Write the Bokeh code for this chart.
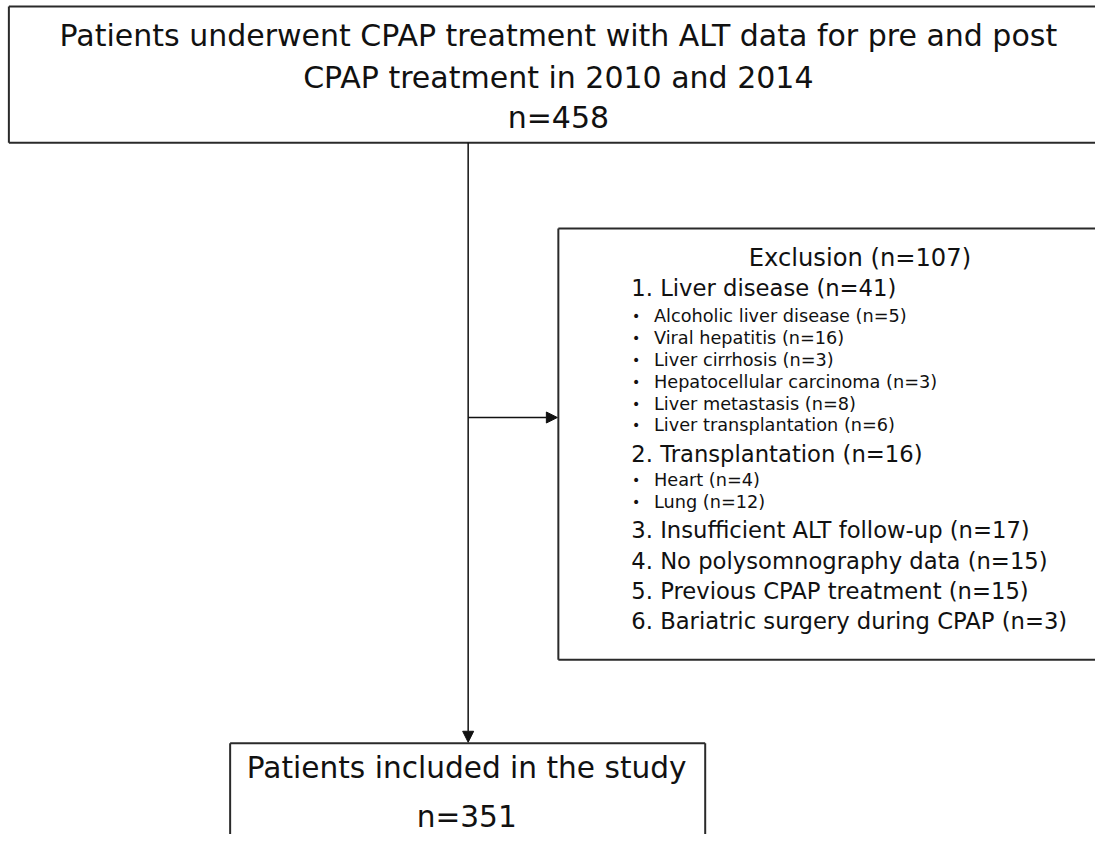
from bokeh.plotting import figure
from bokeh.models import Range1d, Arrow, NormalHead, ColumnDataSource
from bokeh.core.properties import value
from bokeh.embed import file_html
from bokeh.resources import INLINE

# ---- data (flowchart contents) ----
top_lines = ["Patients underwent CPAP treatment with ALT data for pre and post",
             "CPAP treatment in 2010 and 2014"]
total_n = 458
excluded_n = 107
included_n = 351
groups = ["Liver disease", "Transplantation", "Insufficient ALT follow-up",
          "No polysomnography data", "Previous CPAP treatment",
          "Bariatric surgery during CPAP"]
group_n = [41, 16, 17, 15, 15, 3]
liver_sub = ["Alcoholic liver disease", "Viral hepatitis", "Liver cirrhosis",
             "Hepatocellular carcinoma", "Liver metastasis", "Liver transplantation"]
liver_sub_n = [5, 16, 3, 3, 8, 6]
tx_sub = ["Heart", "Lung"]
tx_sub_n = [4, 12]
included_label = "Patients included in the study"

FONT = value("DejaVu Sans")
INK = "#111111"
BORDER = "#2a2a2a"

p = figure(width=1095, height=834, x_range=Range1d(0, 1111), y_range=Range1d(850, 0),
           output_backend="svg", toolbar_location=None, min_border=0,
           x_axis_location=None, y_axis_location=None)
p.grid.visible = False
p.outline_line_color = None
p.background_fill_color = "white"
p.border_fill_color = "white"

# ---- boxes ----
seg = dict(
    x0=[8.5, 8.5, 8.5, 566, 566, 566, 233, 233, 715],
    y0=[6, 6, 145, 232.5, 232.5, 672, 757, 757, 757],
    x1=[8.5, 1120, 1120, 566, 1120, 1120, 715, 233, 715],
    y1=[145, 6, 145, 672, 232.5, 672, 757, 870, 870],
)
p.segment(x0="x0", y0="y0", x1="x1", y1="y1", source=ColumnDataSource(seg),
          line_color=BORDER, line_width=2)

# ---- arrows ----
head = lambda: NormalHead(size=11, fill_color=INK, line_color=INK, line_width=1)
p.add_layout(Arrow(end=head(), x_start=474.5, y_start=145, x_end=474.5, y_end=756,
                   line_color=INK, line_width=1.5))
p.add_layout(Arrow(end=head(), x_start=474.5, y_start=425, x_end=565, y_end=425,
                   line_color=INK, line_width=1.5))

# ---- top box text ----
top_text = top_lines + [f"n={total_n}"]
p.text(x=[566] * 3, y=[36, 78, 119], text=top_text, text_font=FONT,
       text_font_size="30px", text_align="center", text_baseline="middle", text_color=INK)

# ---- bottom box text ----
p.text(x=[473, 473], y=[782, 832], text=[included_label, f"n={included_n}"], text_font=FONT,
       text_font_size="29.6px", text_align="center", text_baseline="middle", text_color=INK)

# ---- exclusion box text ----
p.text(x=[872], y=[262], text=[f"Exclusion (n={excluded_n})"], text_font=FONT,
       text_font_size="24.2px", text_align="center", text_baseline="middle", text_color=INK)

group_y = [293, 462, 540, 571, 602, 632]
g_text = [f"{i + 1}. {g} (n={n})" for i, (g, n) in enumerate(zip(groups, group_n))]
p.text(x=[640] * len(g_text), y=group_y, text=g_text, text_font=FONT,
       text_font_size="22.7px", text_align="left", text_baseline="middle", text_color=INK)

sub_y = [322, 344, 366, 389, 411, 433, 489, 511]
sub_text = [f"{s} (n={n})" for s, n in zip(liver_sub + tx_sub, liver_sub_n + tx_sub_n)]
p.text(x=[663] * len(sub_text), y=sub_y, text=sub_text, text_font=FONT,
       text_font_size="17.7px", text_align="left", text_baseline="middle", text_color=INK)
p.text(x=[645] * len(sub_text), y=sub_y, text=["•"] * len(sub_text), text_font=FONT,
       text_font_size="14px", text_align="center", text_baseline="middle", text_color=INK)

open("out.html", "w").write(file_html(p, INLINE))
